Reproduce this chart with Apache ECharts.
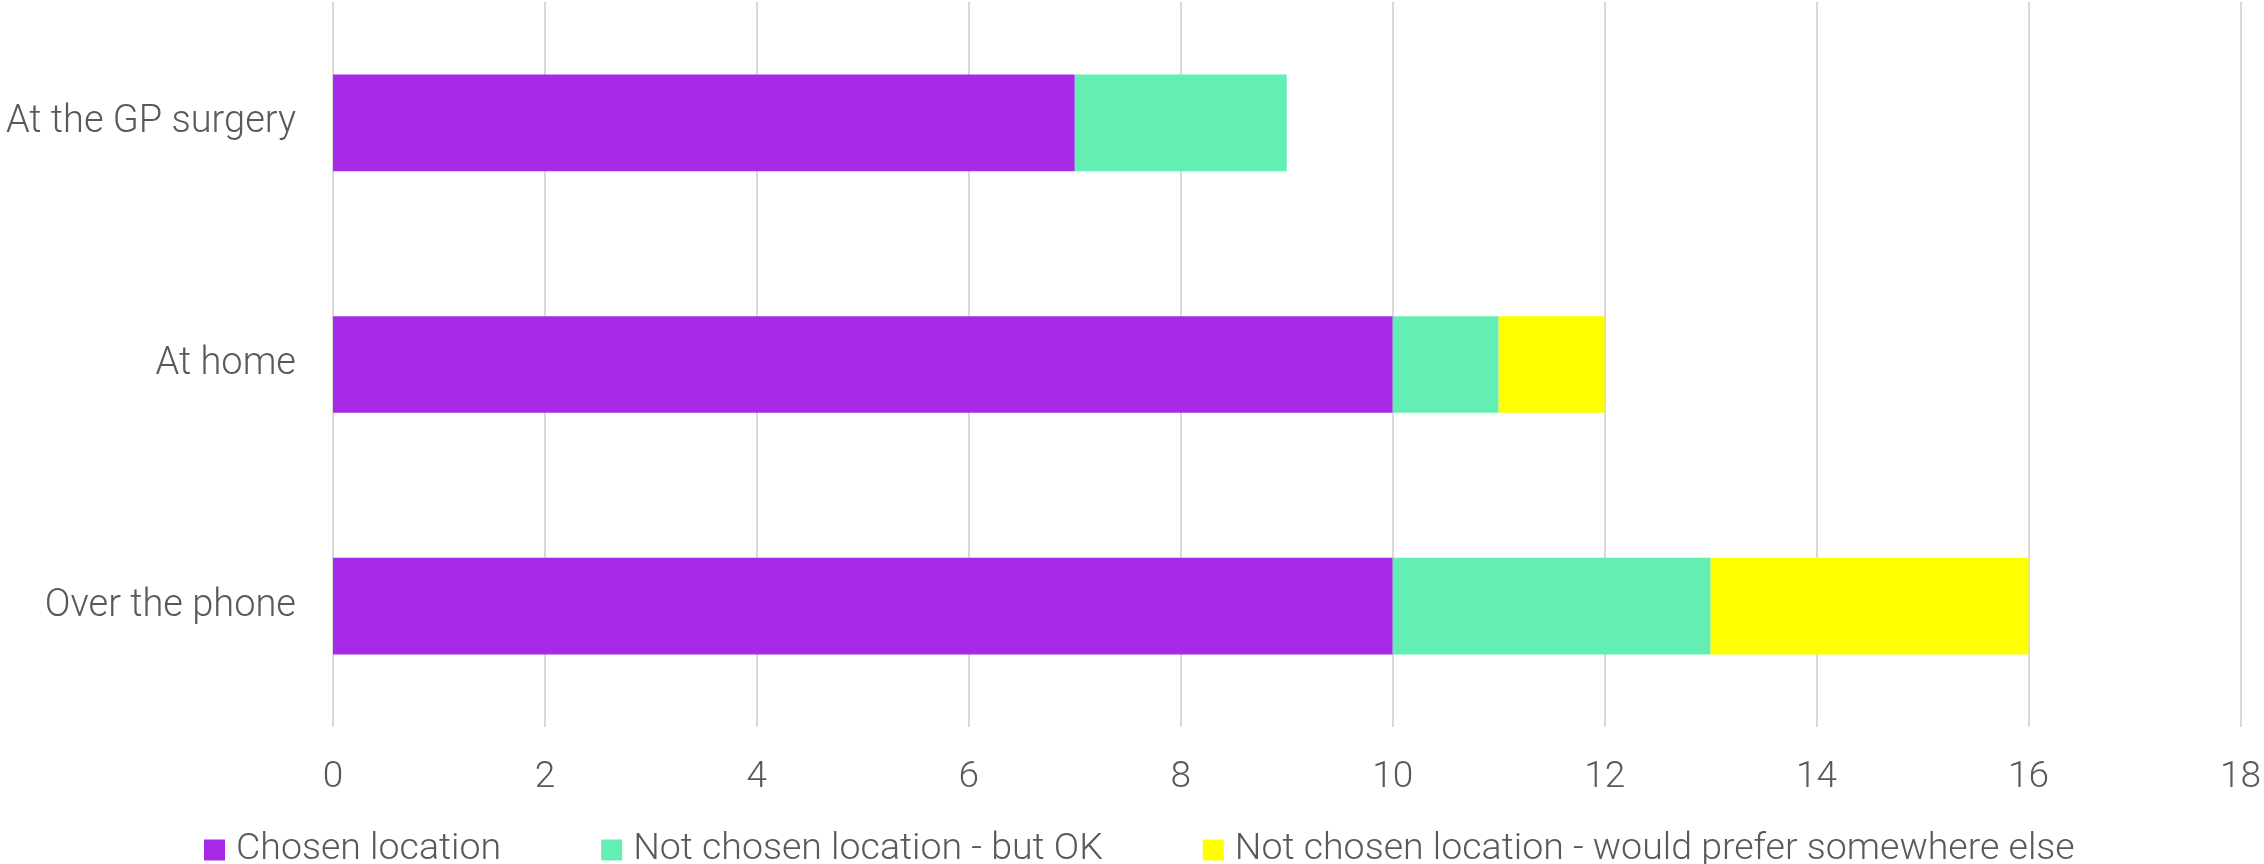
<!DOCTYPE html>
<html>
<head>
<meta charset="utf-8">
<script src="https://cdn.jsdelivr.net/npm/echarts@6/dist/echarts.min.js"></script>
<style>
  html, body { margin: 0; padding: 0; background: #fff; }
  #chart { width: 2264px; height: 864px; }
</style>
</head>
<body>
<div id="chart"></div>
<script>
// categories, top to bottom
const categories = ['At the GP surgery', 'At home', 'Over the phone']
const chosen = [7, 10, 10]
const notChosenOk = [2, 1, 3]
const preferElsewhere = [0, 1, 3]
const seriesNames = [
  'Chosen location',
  'Not chosen location - but OK',
  'Not chosen location - would prefer somewhere else'
]
const colors = ['#A529E6', '#63EFB3', '#FFFF00']

const textColor = '#595959'
const fontFamily = 'Roboto, "Liberation Sans", sans-serif'

const chart = echarts.init(document.getElementById('chart'))

function makeSeries(name, data, color) {
  return {
    name,
    data,
    type: 'bar',
    stack: 'total',
    barWidth: '40%',
    itemStyle: { color },
    emphasis: { disabled: true }
  }
}

const option = {
  animation: false,
  color: colors,
  grid: {
    left: 333,
    right: 22,
    top: 2,
    bottom: 137,
    containLabel: false
  },
  legend: {
    left: 199,
    top: 826,
    itemWidth: 21,
    itemHeight: 21,
    itemGap: 100,
    icon: 'rect',
    data: seriesNames,
    textStyle: {
      color: textColor,
      fontSize: 37.5,
      fontWeight: 300,
      fontFamily,
      padding: [0, 0, 0, 6]
    }
  },
  xAxis: {
    type: 'value',
    min: 0,
    max: 18,
    interval: 2,
    axisLine: { show: false },
    axisTick: { show: false },
    splitLine: { lineStyle: { color: '#D9D9D9', width: 2 } },
    axisLabel: {
      margin: 32,
      color: textColor,
      fontSize: 37,
      fontWeight: 300,
      fontFamily
    }
  },
  yAxis: {
    type: 'category',
    inverse: true,
    data: categories,
    axisLine: { show: false },
    axisTick: { show: false },
    axisLabel: {
      margin: 37,
      color: textColor,
      fontSize: 38,
      fontWeight: 300,
      fontFamily
    }
  },
  series: [
    makeSeries(seriesNames[0], chosen, colors[0]),
    makeSeries(seriesNames[1], notChosenOk, colors[1]),
    makeSeries(seriesNames[2], preferElsewhere, colors[2])
  ]
}

chart.setOption(option)
</script>
</body>
</html>
